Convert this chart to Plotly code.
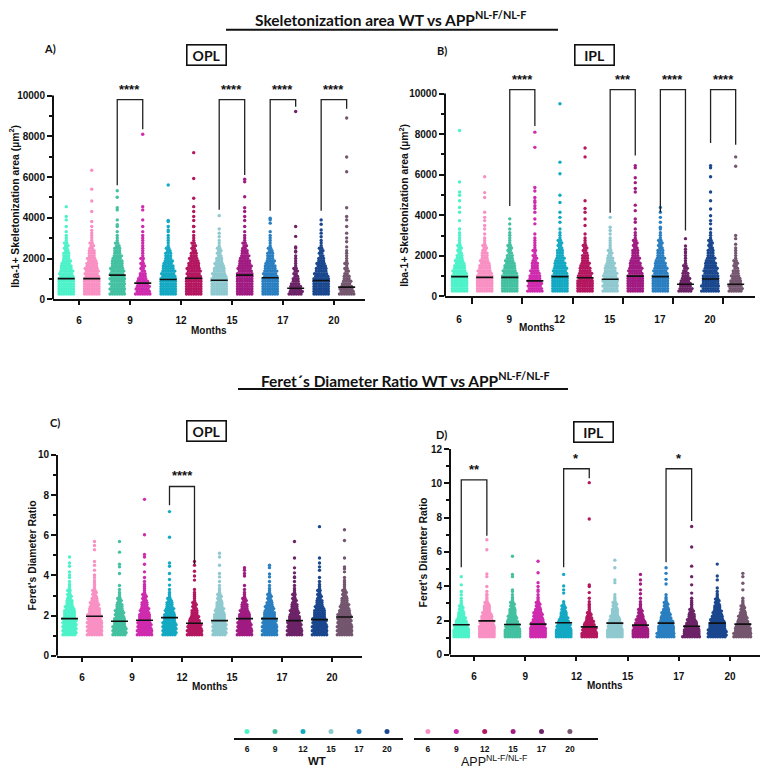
import plotly.graph_objects as go

W, H = 767, 777

# ------------------------------------------------------------------ data
MONTHS = ["6", "9", "12", "15", "17", "20"]
WT_COLORS = ["#4DF2C9", "#43C1A1", "#14A9C3", "#8FC9D0", "#2A7FC1", "#1A478E"]
APP_COLORS = ["#F990C3", "#CF2BAE", "#B4165F", "#A01B82", "#6D2367", "#74566F"]

# ---- Panel A: Skeletonization area, OPL (um^2)
A_EDGES = [200, 450, 700, 950, 1200, 1450, 1700, 1950, 2200, 2450, 2700, 2950, 3200, 3450, 3700, 3950]
A_WT_MEDIAN = [1020, 1190, 975, 940, 1060, 925]
A_APP_MEDIAN = [1020, 800, 1040, 1190, 550, 600]
A_WT_COUNTS = [
    [14, 14, 14, 13, 12, 10, 8, 6, 5, 4, 3, 2, 1, 0, 0],
    [13, 13, 13, 13, 12, 11, 10, 8, 6, 5, 3, 2, 1, 1, 0],
    [14, 14, 14, 13, 12, 10, 8, 6, 5, 3, 2, 2, 1, 1, 1],
    [14, 14, 14, 13, 11, 9, 7, 5, 4, 3, 2, 1, 0, 0, 0],
    [14, 14, 14, 13, 12, 10, 8, 6, 5, 3, 2, 2, 1, 0, 0],
    [14, 14, 14, 13, 11, 9, 7, 5, 4, 3, 2, 1, 0, 0, 0],
]
A_APP_COUNTS = [
    [14, 14, 14, 13, 12, 11, 9, 7, 6, 4, 3, 2, 2, 1, 1],
    [13, 12, 10, 7, 5, 4, 3, 3, 2, 2, 2, 2, 1, 1, 0],
    [14, 14, 14, 13, 12, 11, 9, 7, 5, 4, 3, 2, 1, 1, 0],
    [14, 14, 14, 14, 13, 12, 10, 8, 6, 4, 3, 2, 1, 1, 0],
    [12, 10, 7, 5, 4, 3, 2, 2, 1, 1, 0, 0, 0, 0, 0],
    [13, 11, 8, 6, 4, 3, 3, 2, 2, 1, 1, 0, 0, 0, 0],
]
A_WT_OUTLIERS = [
    [3580, 3900, 4065, 4550],
    [3660, 3900, 4390, 4500, 5010, 5330],
    [3410, 3870, 5610],
    [3250, 3460, 4110],
    [3740, 3900, 3980],
    [3250, 3410, 3690, 3900],
]
A_APP_OUTLIERS = [
    [4310, 4830, 5410, 6340],
    [3900, 4390, 4550, 8100],
    [3580, 3870, 4065, 4310, 4550, 4960, 5930, 7200],
    [3870, 4065, 4310, 4500, 5040, 5770, 5900],
    [2360, 2520, 3090, 3580, 9220],
    [3010, 3250, 3580, 3900, 4065, 4500, 6260, 6990, 8900],
]
A_SIG_MONTH = ["9", "15", "17", "20"]
A_SIG_TEXT = ["****", "****", "****", "****"]
A_SIG_TOP = [9800, 9800, 9800, 9800]
A_SIG_WT_END = [5600, 4400, 4350, 4350]
A_SIG_APP_END = [8350, 6100, 9450, 9350]

# ---- Panel B: Skeletonization area, IPL (um^2)
B_EDGES = A_EDGES
B_WT_MEDIAN = [975, 940, 975, 845, 975, 860]
B_APP_MEDIAN = [940, 765, 925, 1000, 600, 600]
B_WT_COUNTS = [
    [14, 14, 14, 13, 11, 9, 7, 5, 4, 3, 2, 2, 1, 0, 0],
    [14, 14, 14, 13, 11, 9, 7, 5, 4, 3, 2, 2, 1, 1, 1],
    [14, 14, 14, 13, 12, 10, 8, 6, 5, 4, 3, 2, 1, 0, 0],
    [13, 13, 13, 12, 10, 8, 6, 4, 3, 2, 2, 1, 0, 0, 0],
    [14, 14, 14, 13, 12, 10, 8, 6, 5, 4, 3, 2, 1, 0, 0],
    [15, 15, 14, 13, 12, 10, 8, 6, 5, 4, 3, 2, 0, 0, 0],
]
B_APP_COUNTS = [
    [14, 14, 14, 13, 11, 9, 7, 6, 4, 3, 2, 1, 1, 0, 0],
    [13, 12, 11, 9, 7, 6, 4, 3, 3, 2, 2, 1, 0, 0, 0],
    [14, 14, 13, 12, 10, 8, 6, 5, 4, 3, 2, 1, 0, 0, 0],
    [14, 14, 14, 13, 12, 10, 8, 6, 5, 4, 3, 2, 1, 0, 0],
    [12, 10, 8, 6, 4, 3, 2, 2, 1, 0, 0, 0, 0, 0, 0],
    [12, 11, 9, 7, 5, 4, 3, 2, 2, 1, 0, 0, 0, 0, 0],
]
B_WT_OUTLIERS = [
    [3740, 4150, 4390, 4720, 4990, 5150, 5640, 8180],
    [],
    [3660, 3900, 4150, 4630, 4990, 6050, 6620, 9500],
    [3250, 3410, 3900],
    [3410, 3660, 3900, 4150, 4390],
    [3330, 3580, 3740, 3980, 4310, 4720, 5150, 5900, 6340, 6450],
]
B_APP_OUTLIERS = [
    [3500, 3740, 3900, 4150, 4880, 5120, 5900],
    [3580, 3820, 4150, 4340, 4470, 4630, 4720, 4880, 5200, 5370, 7350, 8100],
    [3500, 3820, 4150, 4340, 4720, 6880, 7320],
    [3660, 3820, 4230, 4500, 5150, 5320, 5610, 5850, 6340, 6450],
    [2200, 2490, 2850],
    [2850, 3010, 6420, 6880],
]
B_SIG_MONTH = ["9", "15", "17", "20"]
B_SIG_TEXT = ["****", "***", "****", "****"]
B_SIG_TOP = [10200, 10200, 10200, 10200]
B_SIG_WT_END = [4460, 4130, 4150, 7560]
B_SIG_APP_END = [8400, 6950, 3250, 7480]

# ---- Panel C: Feret's diameter ratio, OPL
C_EDGES = [1.0, 1.2, 1.4, 1.6, 1.8, 2.0, 2.2, 2.4, 2.6, 2.8, 3.0, 3.2, 3.4, 3.6, 3.8, 4.0]
C_WT_MEDIAN = [1.85, 1.72, 1.90, 1.75, 1.85, 1.80]
C_APP_MEDIAN = [1.97, 1.77, 1.62, 1.85, 1.75, 1.93]
C_WT_COUNTS = [
    [12, 12, 12, 12, 11, 10, 9, 7, 6, 4, 3, 3, 2, 1, 1],
    [12, 12, 11, 10, 9, 8, 7, 6, 4, 3, 2, 1, 1, 0, 0],
    [12, 12, 12, 11, 10, 9, 8, 6, 5, 3, 2, 1, 0, 0, 0],
    [12, 12, 12, 11, 10, 9, 8, 6, 5, 4, 3, 2, 1, 1, 0],
    [13, 13, 13, 12, 11, 10, 8, 7, 5, 4, 3, 2, 1, 1, 0],
    [13, 13, 13, 12, 11, 10, 9, 7, 6, 4, 3, 3, 2, 1, 1],
]
C_APP_COUNTS = [
    [13, 13, 13, 13, 12, 11, 10, 8, 7, 5, 4, 3, 2, 2, 1],
    [13, 13, 12, 11, 10, 9, 8, 6, 5, 4, 3, 2, 2, 1, 1],
    [13, 13, 12, 10, 8, 6, 5, 4, 3, 2, 2, 1, 0, 0, 0],
    [13, 13, 12, 11, 10, 9, 7, 6, 4, 3, 2, 1, 1, 0, 0],
    [13, 13, 12, 11, 10, 8, 7, 6, 4, 3, 3, 2, 1, 1, 1],
    [13, 13, 13, 12, 12, 11, 9, 8, 6, 5, 4, 3, 2, 2, 1],
]
C_WT_OUTLIERS = [
    [4.02, 4.18, 4.46, 4.62, 4.92],
    [4.10, 4.43, 4.56, 5.16, 5.69],
    [3.52, 3.80, 4.10, 4.46, 4.62, 5.90, 7.18],
    [3.93, 4.10, 4.51, 4.92, 5.11],
    [3.93, 4.07, 4.39, 4.51],
    [4.26, 4.43, 4.62, 4.87, 6.43],
]
C_APP_OUTLIERS = [
    [4.02, 4.26, 4.51, 4.70, 5.28, 5.49, 5.69],
    [4.18, 4.56, 4.92, 5.05, 6.03, 7.79],
    [3.77, 3.97, 4.21, 4.51, 4.70],
    [3.97, 4.10, 4.26, 4.39],
    [3.93, 4.13, 4.38, 4.87, 5.69],
    [4.18, 4.34, 4.43, 4.87, 5.74, 6.28],
]
C_SIG_MONTH = ["12"]
C_SIG_TEXT = ["****"]
C_SIG_TOP = [8.43]
C_SIG_WT_END = [7.5]
C_SIG_APP_END = [4.56]

# ---- Panel D: Feret's diameter ratio, IPL
D_EDGES = C_EDGES
D_WT_MEDIAN = [1.75, 1.77, 1.87, 1.85, 1.85, 1.85]
D_APP_MEDIAN = [1.98, 1.79, 1.63, 1.73, 1.67, 1.79]
D_WT_COUNTS = [
    [14, 14, 13, 12, 10, 8, 6, 5, 4, 3, 2, 1, 1, 0, 0],
    [14, 14, 13, 12, 10, 8, 7, 6, 5, 4, 3, 2, 1, 1, 0],
    [14, 14, 13, 12, 10, 8, 6, 5, 4, 3, 1, 0, 0, 0, 0],
    [14, 14, 13, 12, 11, 9, 7, 6, 5, 4, 3, 2, 1, 0, 0],
    [15, 15, 14, 13, 12, 10, 8, 7, 5, 4, 3, 2, 1, 0, 0],
    [16, 16, 15, 14, 13, 11, 9, 8, 6, 5, 4, 3, 2, 1, 1],
]
D_APP_COUNTS = [
    [14, 14, 14, 13, 12, 10, 9, 7, 6, 5, 3, 2, 1, 1, 0],
    [14, 14, 14, 12, 11, 9, 8, 7, 5, 4, 3, 2, 1, 1, 0],
    [14, 13, 12, 10, 8, 6, 4, 3, 2, 2, 1, 1, 0, 0, 0],
    [14, 14, 13, 11, 9, 7, 5, 4, 3, 2, 1, 1, 0, 0, 0],
    [15, 14, 13, 11, 9, 7, 6, 4, 3, 2, 2, 1, 0, 0, 0],
    [15, 15, 14, 12, 10, 8, 7, 5, 4, 3, 2, 1, 0, 0, 0],
]
D_WT_OUTLIERS = [
    [3.69, 4.08, 4.56],
    [3.79, 4.56, 4.69, 5.75],
    [3.60, 3.79, 4.02, 4.69],
    [4.21, 4.37, 5.08, 5.52],
    [4.13, 4.40, 4.75, 5.08],
    [4.37, 4.60, 5.29],
]
D_APP_OUTLIERS = [
    [3.50, 3.98, 4.56, 4.71, 6.13, 6.71],
    [3.79, 3.98, 4.21, 4.79, 5.46],
    [3.63, 3.98, 4.08, 7.92, 10.04],
    [3.56, 3.79, 4.13, 4.37, 4.69],
    [3.60, 4.08, 4.56, 5.17, 6.29, 7.48],
    [3.79, 4.17, 4.56, 4.75],
]
D_SIG_MONTH = ["6", "12", "17"]
D_SIG_TEXT = ["**", "*", "*"]
D_SIG_TOP = [10.2, 10.85, 10.85]
D_SIG_WT_END = [5.1, 5.1, 5.4]
D_SIG_APP_END = [6.95, 10.3, 7.8]

# ------------------------------------------------------------------ helpers
def px_x(px):
    return px / W


def px_y(py):
    return 1 - py / H


def ax_ids(n):
    s = "" if n == 1 else str(n)
    return f"x{s}", f"y{s}", f"xaxis{s}", f"yaxis{s}"


TICK_FONT = dict(family="Arial, Liberation Sans, sans-serif", size=10, color="#111", weight="bold")
TITLE_FONT = "Lato, sans-serif"

fig = go.Figure()
shapes = []
annotations = []


def swarm_points(center, edges, counts, outliers, ppx, ppy, gap_px=2.4, rows_per_bin=2):
    xs, ys = [], []
    row_idx = 0
    for i, c in enumerate(counts):
        if c <= 0:
            continue
        lo, hi = edges[i], edges[i + 1]
        rows = min(rows_per_bin, c)
        base, extra = divmod(c, rows)
        for r in range(rows):
            m = base + (1 if r < extra else 0)
            yv = lo + (r + 0.5) * (hi - lo) / rows
            stagger = (0.25 if row_idx % 2 else -0.25) * gap_px if m % 2 == 0 else 0.0
            row_idx += 1
            for k in range(m):
                off = (k - (m - 1) / 2) * gap_px + stagger
                xs.append(center + off / ppx)
                ys.append(yv)
    for v in outliers:
        xs.append(center)
        ys.append(v)
    return xs, ys


PANELS = [
    dict(n=1, edges=A_EDGES, wt_med=A_WT_MEDIAN, app_med=A_APP_MEDIAN, wt_cnt=A_WT_COUNTS,
         app_cnt=A_APP_COUNTS, wt_out=A_WT_OUTLIERS, app_out=A_APP_OUTLIERS,
         sig=(A_SIG_MONTH, A_SIG_TEXT, A_SIG_TOP, A_SIG_WT_END, A_SIG_APP_END),
         xpx=(53, 365), xr=(-0.52, 11.72), py0=298, pytop=91, ytop=10000, yext=10500,
         dtick=2000, minor=1000, ytitle="Iba-1+ Skeletonization area (µm<sup>2</sup>)",
         ytitle_pos=(14, 204), months=(209, 330), shift=0, ticklen=4),
    dict(n=2, edges=B_EDGES, wt_med=B_WT_MEDIAN, app_med=B_APP_MEDIAN, wt_cnt=B_WT_COUNTS,
         app_cnt=B_APP_COUNTS, wt_out=B_WT_OUTLIERS, app_out=B_APP_OUTLIERS,
         sig=(B_SIG_MONTH, B_SIG_TEXT, B_SIG_TOP, B_SIG_WT_END, B_SIG_APP_END),
         xpx=(445, 755), xr=(-0.58, 11.77), py0=295, pytop=89, ytop=10000, yext=10750,
         dtick=2000, minor=1000, ytitle="Iba-1+ Skeletonization area (µm<sup>2</sup>)",
         ytitle_pos=(404, 203), months=(537, 327), shift=-13, ticklen=6),
    dict(n=3, edges=C_EDGES, wt_med=C_WT_MEDIAN, app_med=C_APP_MEDIAN, wt_cnt=C_WT_COUNTS,
         app_cnt=C_APP_COUNTS, wt_out=C_WT_OUTLIERS, app_out=C_APP_OUTLIERS,
         sig=(C_SIG_MONTH, C_SIG_TEXT, C_SIG_TOP, C_SIG_WT_END, C_SIG_APP_END),
         xpx=(57, 362), xr=(-0.5, 11.7), py0=660, pytop=456, ytop=10, yext=10,
         dtick=2, minor=1, ytitle="Feret's Diameter Ratio",
         ytitle_pos=(32, 558), months=(210, 691), shift=0, ticklen=4),
    dict(n=4, edges=D_EDGES, wt_med=D_WT_MEDIAN, app_med=D_APP_MEDIAN, wt_cnt=D_WT_COUNTS,
         app_cnt=D_APP_COUNTS, wt_out=D_WT_OUTLIERS, app_out=D_APP_OUTLIERS,
         sig=(D_SIG_MONTH, D_SIG_TEXT, D_SIG_TOP, D_SIG_WT_END, D_SIG_APP_END),
         xpx=(450, 760), xr=(-0.44, 11.67), py0=659, pytop=450, ytop=12, yext=12,
         dtick=2, minor=1, ytitle="Feret's Diameter Ratio",
         ytitle_pos=(423, 555), months=(605, 690), shift=0, ticklen=4),
]

layout_axes = {}
for P in PANELS:
    xa, ya, xkey, ykey = ax_ids(P["n"])
    x0px, x1px = P["xpx"]
    ppx = (x1px - x0px) / (P["xr"][1] - P["xr"][0])
    ppy = (P["py0"] - P["pytop"]) / P["ytop"]
    dom_top_py = P["py0"] - P["yext"] * ppy
    nmaj = int(round(P["ytop"] / P["dtick"]))
    layout_axes[xkey] = dict(
        domain=[px_x(x0px), px_x(x1px)], range=list(P["xr"]), anchor=ya,
        showgrid=False, zeroline=False, showline=True, linecolor="#111", linewidth=2,
        ticks="outside", ticklen=P["ticklen"], tickwidth=2, tickcolor="#111",
        tickvals=[2 * i + 0.5 for i in range(len(MONTHS))], ticktext=MONTHS,
        tickfont=TICK_FONT, ticklabelstandoff=7, ticklabelshift=P["shift"], fixedrange=True)
    layout_axes[ykey] = dict(
        domain=[px_y(P["py0"]), px_y(dom_top_py)], range=[0, P["yext"]], anchor=xa,
        showgrid=False, zeroline=False, showline=False, tickformat="d",
        ticks="outside", ticklen=5, tickwidth=2, tickcolor="#111", tickfont=TICK_FONT,
        tickvals=[v * P["dtick"] for v in range(nmaj + 1)],
        minor=dict(ticks="outside", ticklen=3, tickwidth=1.5, tickcolor="#111",
                   tickvals=[P["minor"] * (2 * v + 1) for v in range(nmaj)]),
        fixedrange=True)
    # y axis line up to the top tick
    shapes.append(dict(type="line", xref=f"{xa} domain", x0=0, x1=0, yref=ya, y0=0,
                       y1=P["ytop"], line=dict(color="#111", width=2)))

    med_x, med_y = [], []
    for m in range(len(MONTHS)):
        for g, (cnt, out, med, col) in enumerate([
                (P["wt_cnt"][m], P["wt_out"][m], P["wt_med"][m], WT_COLORS[m]),
                (P["app_cnt"][m], P["app_out"][m], P["app_med"][m], APP_COLORS[m])]):
            center = 2 * m + g
            xs, ys = swarm_points(center, P["edges"], cnt, out, ppx, ppy)
            fig.add_trace(go.Scatter(
                x=xs, y=ys, mode="markers", xaxis=xa, yaxis=ya,
                marker=dict(size=3.4, color=col, line=dict(width=0)),
                hoverinfo="skip", showlegend=False))
            half = 8.5 / ppx
            med_x += [center - half, center + half, None]
            med_y += [med, med, None]
    fig.add_trace(go.Scatter(x=med_x, y=med_y, mode="lines", xaxis=xa, yaxis=ya,
                             line=dict(color="#111", width=1.6), hoverinfo="skip",
                             showlegend=False))

    sm, st, stop, swe, sae = P["sig"]
    bx, by = [], []
    for month, txt, top, we, ae in zip(sm, st, stop, swe, sae):
        m = MONTHS.index(month)
        bx += [2 * m, 2 * m, 2 * m + 1, 2 * m + 1, None]
        by += [we, top, top, ae, None]
        annotations.append(dict(xref=xa, yref=ya, x=2 * m + 0.5, y=top, text=txt,
                                showarrow=False, xanchor="center", yanchor="bottom",
                                yshift=1,
                                font=dict(family="Arial, Liberation Sans", size=13,
                                          color="#111", weight="bold")))
    fig.add_trace(go.Scatter(x=bx, y=by, mode="lines", xaxis=xa, yaxis=ya,
                             line=dict(color="#222", width=1.3), hoverinfo="skip",
                             showlegend=False))

    tx, ty = P["ytitle_pos"]
    annotations.append(dict(xref="paper", yref="paper", x=px_x(tx), y=px_y(ty),
                            text=P["ytitle"], textangle=-90, showarrow=False,
                            xanchor="center", yanchor="middle",
                            font=dict(family="Arial, Liberation Sans", size=10.4,
                                      color="#111", weight="bold")))
    mx, my = P["months"]
    annotations.append(dict(xref="paper", yref="paper", x=px_x(mx), y=px_y(my),
                            text="Months", showarrow=False, xanchor="center", yanchor="middle",
                            font=dict(family="Arial, Liberation Sans", size=10,
                                      color="#111", weight="bold")))

# ---------------- legend subplots
LEG = [
    dict(n=5, xpx=(234, 403), xr=(-0.464, 5.571), colors=WT_COLORS,
         label="<b>WT</b>", lx=317, lsize=11.5),
    dict(n=6, xpx=(414, 598), xr=(-0.49, 5.99), colors=APP_COLORS,
         label="APP<sup>NL-F/NL-F</sup>", lx=494, lsize=12.5),
]
for L in LEG:
    xa, ya, xkey, ykey = ax_ids(L["n"])
    layout_axes[xkey] = dict(
        domain=[px_x(L["xpx"][0]), px_x(L["xpx"][1])], range=list(L["xr"]), anchor=ya,
        showgrid=False, zeroline=False, showline=True, linecolor="#111", linewidth=2,
        ticks="", tickvals=list(range(len(MONTHS))), ticktext=MONTHS,
        tickfont=dict(family="Arial, Liberation Sans", size=8.5, color="#111", weight="bold"),
        ticklabelstandoff=2, fixedrange=True)
    layout_axes[ykey] = dict(
        domain=[px_y(743), px_y(731)], range=[0, 1], anchor=xa, visible=False,
        fixedrange=True)
    fig.add_trace(go.Scatter(
        x=list(range(len(MONTHS))), y=[0.5] * len(MONTHS), mode="markers",
        xaxis=xa, yaxis=ya, marker=dict(size=5, color=L["colors"]),
        hoverinfo="skip", showlegend=False))
    annotations.append(dict(xref="paper", yref="paper", x=px_x(L["lx"]), y=px_y(767),
                            text=L["label"], showarrow=False, xanchor="center",
                            yanchor="middle",
                            font=dict(family="Arial, Liberation Sans", size=L["lsize"],
                                      color="#111")))

# ---------------- titles, panel labels and boxes
TITLES = [
    ("Skeletonization area WT vs APP<sup>NL-F/NL-F</sup>", 390, 13, (226, 558), 24),
    ("Feret´s Diameter Ratio WT vs APP<sup>NL-F/NL-F</sup>", 406, 379, (238, 568), 389),
]
for txt, cx, cy, (lx0, lx1), ly in TITLES:
    annotations.append(dict(xref="paper", yref="paper", x=px_x(cx), y=px_y(cy), text=txt,
                            showarrow=False, xanchor="center", yanchor="middle",
                            font=dict(family=TITLE_FONT, size=15.5, color="#111",
                                      weight="bold")))
    shapes.append(dict(type="line", xref="paper", yref="paper", x0=px_x(lx0), x1=px_x(lx1),
                       y0=px_y(ly), y1=px_y(ly), line=dict(color="#111", width=2)))

LABELS = [("A)", 50, 43), ("B)", 442, 45), ("C)", 55, 423), ("D)", 441, 435)]
for txt, x, y in LABELS:
    annotations.append(dict(xref="paper", yref="paper", x=px_x(x), y=px_y(y), text=txt,
                            showarrow=False, xanchor="center", yanchor="middle",
                            font=dict(family=TITLE_FONT, size=11, color="#111",
                                      weight="bold")))

BOXES = [("OPL", 206, 50), ("IPL", 594, 50), ("OPL", 206, 432), ("IPL", 593, 432.5)]
for txt, x, y in BOXES:
    annotations.append(dict(xref="paper", yref="paper", x=px_x(x), y=px_y(y), text=txt,
                            showarrow=False, xanchor="center", yanchor="middle",
                            width=35, height=16, align="center", valign="middle",
                            bordercolor="#111", borderwidth=1.6, borderpad=1.5,
                            font=dict(family=TITLE_FONT, size=14, color="#111",
                                      weight="bold")))

fig.update_layout(
    width=W, height=H, margin=dict(l=0, r=0, t=0, b=0),
    paper_bgcolor="white", plot_bgcolor="white", showlegend=False,
    shapes=shapes, annotations=annotations, **layout_axes)

fig.write_html("out.html", config={"displayModeBar": False})
